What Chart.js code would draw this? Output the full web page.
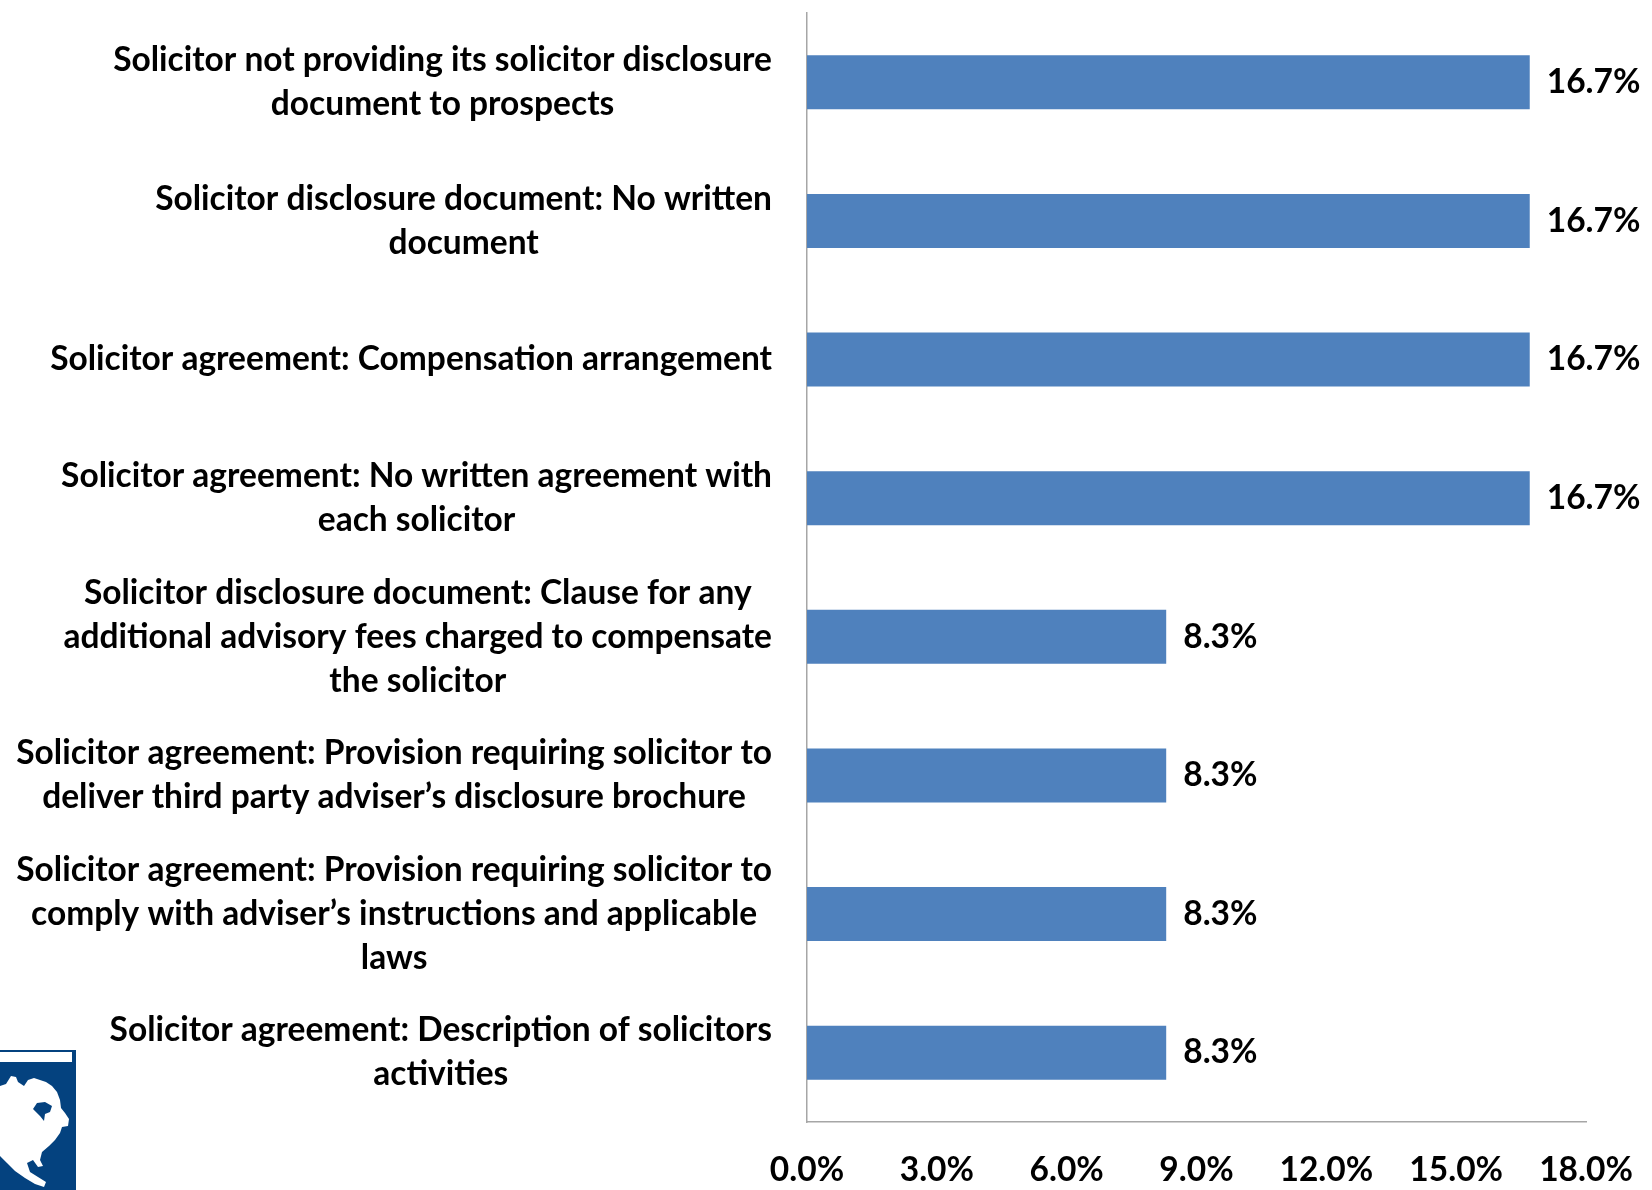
<!DOCTYPE html>
<html lang="en">
<head>
    <meta charset="UTF-8">
    <title>Solicitor Deficiencies</title>
    <script src="https://cdn.jsdelivr.net/npm/chart.js"></script>
    <style>
        body {
            margin: 0;
            padding: 0;
            background-color: #ffffff;
        }

        .chart-container {
            position: relative;
            width: 1652px;
            height: 1190px;
        }
    </style>
</head>
<body>

    <div class="chart-container">
        <canvas id="barChart"></canvas>
    </div>

    <script>
        // Deficiency categories (each entry is a list of label lines)
        const categories = [
            ['Solicitor not providing its solicitor disclosure', 'document to prospects'],
            ['Solicitor disclosure document: No written', 'document'],
            ['Solicitor agreement: Compensation arrangement'],
            ['Solicitor agreement: No written agreement with', 'each solicitor'],
            ['Solicitor disclosure document: Clause for any', 'additional advisory fees charged to compensate', 'the solicitor'],
            ['Solicitor agreement: Provision requiring solicitor to', 'deliver third party adviser\u2019s disclosure brochure'],
            ['Solicitor agreement: Provision requiring solicitor to', 'comply with adviser\u2019s instructions and applicable', 'laws'],
            ['Solicitor agreement: Description of solicitors', 'activities']
        ];

        // Share of examinations with each deficiency (%)
        const percentages = [16.7, 16.7, 16.7, 16.7, 8.3, 8.3, 8.3, 8.3];

        // X axis ticks (%)
        const xTicks = [0, 3, 6, 9, 12, 15, 18];

        const FONT_FAMILY = 'Lato, "Open Sans", sans-serif';
        const FONT_SIZE = 33.5;
        const LABEL_FONT = 'bold ' + FONT_SIZE + 'px ' + FONT_FAMILY;
        const LINE_HEIGHT = 44;

        // Multi-line category labels: lines centred on each other, block right-aligned to the axis
        const categoryLabels = {
            id: 'categoryLabels',
            afterDraw(chart) {
                const ctx = chart.ctx;
                const yScale = chart.scales.y;
                const rightEdge = yScale.right - 35;
                ctx.save();
                ctx.font = LABEL_FONT;
                ctx.fillStyle = '#000000';
                ctx.textAlign = 'center';
                ctx.textBaseline = 'middle';
                categories.forEach((lines, i) => {
                    const y = yScale.getPixelForTick(i);
                    const widest = Math.max(...lines.map(l => ctx.measureText(l).width));
                    const cx = rightEdge - widest / 2;
                    lines.forEach((line, j) => {
                        ctx.fillText(line, cx, y + (j - (lines.length - 1) / 2) * LINE_HEIGHT);
                    });
                });
                ctx.restore();
            }
        };

        // Value labels at the end of each bar
        const valueLabels = {
            id: 'valueLabels',
            afterDatasetsDraw(chart) {
                const ctx = chart.ctx;
                const meta = chart.getDatasetMeta(0);
                ctx.save();
                ctx.font = LABEL_FONT;
                ctx.fillStyle = '#000000';
                ctx.textAlign = 'left';
                ctx.textBaseline = 'middle';
                meta.data.forEach((bar, i) => {
                    ctx.fillText(percentages[i].toFixed(1) + '%', bar.x + 17, bar.y);
                });
                ctx.restore();
            }
        };

        // Small corner logo: blue block with a white continent silhouette
        const cornerLogo = {
            id: 'cornerLogo',
            afterDraw(chart) {
                const ctx = chart.ctx;
                ctx.save();
                ctx.fillStyle = '#04427f';
                ctx.fillRect(0, 1050, 76, 140);
                ctx.fillStyle = '#ffffff';
                ctx.fillRect(0, 1052, 72, 10);
                ctx.beginPath();
                const pts = [
                    [0, 1086], [6, 1084], [11, 1076], [16, 1077], [18, 1082], [24, 1086],
                    [28, 1080], [34, 1078], [40, 1080], [46, 1082], [52, 1086], [57, 1092],
                    [60, 1100], [61, 1108], [65, 1113], [69, 1119], [68, 1126], [62, 1127],
                    [60, 1133], [55, 1140], [49, 1146], [42, 1152], [40, 1160], [43, 1166],
                    [38, 1167], [33, 1160], [27, 1163], [30, 1172], [38, 1177], [46, 1182],
                    [44, 1187], [35, 1184], [25, 1178], [15, 1171], [7, 1163], [0, 1156]
                ];
                ctx.moveTo(pts[0][0], pts[0][1]);
                pts.slice(1).forEach(p => ctx.lineTo(p[0], p[1]));
                ctx.closePath();
                ctx.fill();
                // Hudson Bay
                ctx.fillStyle = '#04427f';
                ctx.beginPath();
                ctx.moveTo(33, 1109);
                ctx.lineTo(37, 1103);
                ctx.lineTo(45, 1102);
                ctx.lineTo(52, 1106);
                ctx.lineTo(50, 1112);
                ctx.lineTo(45, 1114);
                ctx.lineTo(44, 1121);
                ctx.lineTo(40, 1116);
                ctx.closePath();
                ctx.fill();
                ctx.restore();
            }
        };

        const ctx = document.getElementById('barChart').getContext('2d');
        new Chart(ctx, {
            type: 'bar',
            data: {
                labels: categories,
                datasets: [{
                    data: percentages,
                    backgroundColor: '#4f81bd',
                    borderWidth: 0,
                    barPercentage: 0.39,
                    categoryPercentage: 1.0
                }]
            },
            options: {
                indexAxis: 'y',
                responsive: true,
                maintainAspectRatio: false,
                animation: false,
                layout: {
                    padding: { top: 13, right: 66, bottom: 0, left: 0 }
                },
                plugins: {
                    legend: { display: false },
                    tooltip: { enabled: false }
                },
                scales: {
                    x: {
                        min: 0,
                        max: 18,
                        afterBuildTicks: (scale) => {
                            scale.ticks = xTicks.map(v => ({ value: v }));
                        },
                        afterFit: (scale) => {
                            scale.height = 68;
                            scale.paddingLeft = 0;
                            scale.paddingRight = 0;
                        },
                        grid: { display: false, drawTicks: false },
                        border: { color: '#a6a6a6', width: 1.5 },
                        ticks: {
                            color: '#000000',
                            padding: 28,
                            font: { family: FONT_FAMILY, size: FONT_SIZE, weight: 'bold' },
                            maxRotation: 0,
                            callback: (v) => Number(v).toFixed(1) + '%'
                        }
                    },
                    y: {
                        afterFit: (scale) => { scale.width = 807; },
                        grid: { display: false, drawTicks: false },
                        border: { color: '#a6a6a6', width: 1.5 },
                        ticks: { display: false }
                    }
                }
            },
            plugins: [categoryLabels, valueLabels, cornerLogo]
        });
    </script>
</body>
</html>
